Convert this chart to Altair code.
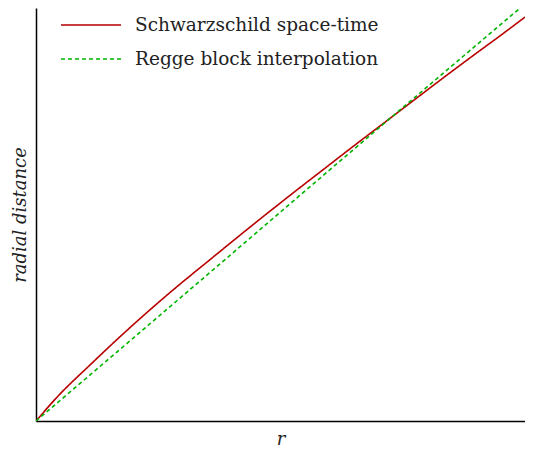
import altair as alt
import pandas as pd

# Schwarzschild proper radial distance
r_schw = [0.0, 0.48, 1.09, 1.69, 2.29, 2.90, 3.50, 4.10, 4.71, 5.31, 5.92, 6.52, 7.12, 7.73, 8.33, 8.93, 9.54, 10.0]
d_schw = [0.0, 0.64, 1.34, 2.01, 2.65, 3.27, 3.85, 4.43, 5.01, 5.57, 6.13, 6.68, 7.22, 7.77, 8.31, 8.84, 9.37, 9.78]

# Regge block interpolation
r_regge = [0.0, 2.90, 6.52, 10.0]
d_regge = [0.0, 2.93, 6.60, 10.10]

series = ["Schwarzschild space-time", "Regge block interpolation"]
colors = ["#b80000", "#00b400"]

df = pd.concat([
    pd.DataFrame({"r": r_schw, "d": d_schw, "s": series[0], "o": 0}),
    pd.DataFrame({"r": r_regge, "d": d_regge, "s": series[1], "o": 1}),
])

font = "DejaVu Serif"

chart = alt.Chart(df).mark_line(strokeWidth=1.6, clip=True, interpolate="monotone").encode(
    x=alt.X("r:Q", scale=alt.Scale(domain=[0, 10], nice=False, zero=False),
            axis=alt.Axis(title="r", ticks=False, labels=False, grid=False,
                          domainColor="black", domainWidth=1.5,
                          titleFont=font, titleFontStyle="italic", titleFontWeight="normal",
                          titleFontSize=18, titleColor="#222", titlePadding=9)),
    y=alt.Y("d:Q", scale=alt.Scale(domain=[0, 10], nice=False, zero=False),
            axis=alt.Axis(title="radial distance", ticks=False, labels=False, grid=False,
                          domainColor="black", domainWidth=1.5,
                          titleFont=font, titleFontStyle="italic", titleFontWeight="normal",
                          titleFontSize=18, titleColor="#222", titlePadding=7)),
    color=alt.Color("s:N", scale=alt.Scale(domain=series, range=colors),
                    legend=alt.Legend(title=None, orient="none", legendX=24, legendY=2,
                                      padding=0, clipHeight=30,
                                      symbolType="stroke", symbolSize=3600,
                                      symbolStrokeWidth=1.6, labelFont=font,
                                      labelFontSize=18.5, labelColor="#222", labelLimit=0,
                                      labelOffset=13, rowPadding=4)),
    strokeDash=alt.StrokeDash("s:N", scale=alt.Scale(domain=series, range=[[1, 0], [4, 3]]),
                              legend=None),
    order="o:Q",
    detail="s:N",
).properties(
    width=489, height=413,
    autosize=alt.AutoSizeParams(type="none"),
    padding={"left": 28, "top": 0, "right": 0, "bottom": 26},
).configure_view(stroke=None)

chart.save("out.html", embed_options={"renderer": "svg", "actions": False})
